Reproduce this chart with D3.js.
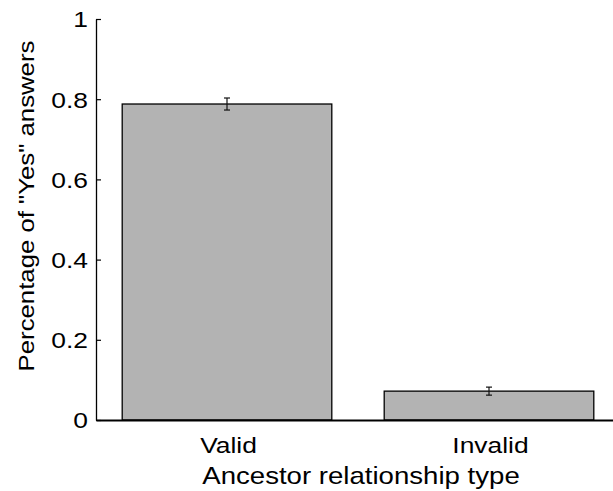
<!DOCTYPE html>
<html>
<head>
<meta charset="utf-8">
<script src="https://cdn.jsdelivr.net/npm/d3@7"></script>
<style>
  body { margin: 0; background: #fff; }
  text { font-family: "Liberation Sans", Arial, sans-serif; }
</style>
</head>
<body>
<div id="chart"></div>
<script>
// data
var categories = ['Valid', 'Invalid']
var values = [0.788, 0.072]
var errors = [0.015, 0.01]
var yTicks = [0, 0.2, 0.4, 0.6, 0.8, 1]

var width = 613, height = 491
var margin = {top: 19, left: 96, bottom: 71}
var plotBottom = height - margin.bottom
// the original font runs a bit wider than Liberation Sans
var stretch = 1.2

var svg = d3.select('#chart')
    .append('svg')
    .attr('width', width)
    .attr('height', height)

// x positions: categories sit at 1 and 2, axis runs 0.5 .. 2.5
var xScale = d3.scaleLinear()
    .domain([0.5, 2.5])
    .range([margin.left, margin.left + 524])

var yScale = d3.scaleLinear()
    .domain([0, 1])
    .range([plotBottom, margin.top])

var barW = 0.8

// bars
svg.selectAll('rect.bar')
    .data(values)
    .enter()
    .append('rect')
    .attr('class', 'bar')
    .attr('x', (d, i) => xScale(i + 1 - barW / 2))
    .attr('width', (d, i) => xScale(i + 1 + barW / 2) - xScale(i + 1 - barW / 2))
    .attr('y', d => yScale(d))
    .attr('height', d => yScale(0) - yScale(d))
    .attr('fill', '#b3b3b3')
    .attr('stroke', '#000')
    .attr('stroke-width', 1.3)

// error bars
var errG = svg.selectAll('g.err')
    .data(values)
    .enter()
    .append('g')
    .attr('class', 'err')
    .attr('stroke', '#111')
    .attr('stroke-width', 1.2)

errG.append('line')
    .attr('x1', (d, i) => xScale(i + 1))
    .attr('x2', (d, i) => xScale(i + 1))
    .attr('y1', (d, i) => yScale(d + errors[i]))
    .attr('y2', (d, i) => yScale(d - errors[i]))
errG.append('line')
    .attr('x1', (d, i) => xScale(i + 1) - 3)
    .attr('x2', (d, i) => xScale(i + 1) + 3)
    .attr('y1', (d, i) => yScale(d + errors[i]))
    .attr('y2', (d, i) => yScale(d + errors[i]))
errG.append('line')
    .attr('x1', (d, i) => xScale(i + 1) - 3)
    .attr('x2', (d, i) => xScale(i + 1) + 3)
    .attr('y1', (d, i) => yScale(d - errors[i]))
    .attr('y2', (d, i) => yScale(d - errors[i]))

// y axis, ticks pointing inward
var yAxis = d3.axisRight(yScale)
    .tickValues(yTicks)
    .tickFormat(d => d === 0 || d === 1 ? String(d) : d3.format('.1f')(d))
    .tickSize(5)
    .tickSizeOuter(0)

var yG = svg.append('g')
    .attr('transform', `translate(${margin.left},0)`)
    .call(yAxis)
yG.select('.domain').attr('stroke', '#000').attr('stroke-width', 1.3)
yG.selectAll('.tick line').attr('stroke', '#000').attr('stroke-width', 1.2)
yG.selectAll('.tick text')
    .attr('x', 0)
    .attr('dy', '0.36em')
    .attr('transform', `translate(-8,0) scale(${stretch},1)`)
    .attr('text-anchor', 'end')
    .attr('font-size', 22)
    .attr('fill', '#000')

// x axis line and category labels
var xAxis = d3.axisBottom(xScale)
    .tickValues([1, 2])
    .tickFormat((d, i) => categories[i])
    .tickSize(0)
    .tickSizeOuter(0)

var xG = svg.append('g')
    .attr('transform', `translate(0,${plotBottom})`)
    .call(xAxis)
xG.select('.domain').attr('stroke', '#000').attr('stroke-width', 2)
xG.selectAll('.tick text')
    .attr('y', 0)
    .attr('dy', 0)
    .attr('transform', `translate(1,33) scale(${stretch},1)`)
    .attr('font-size', 22)
    .attr('fill', '#000')

// axis titles
svg.append('text')
    .attr('transform', `translate(361,484) scale(1.15,1)`)
    .attr('text-anchor', 'middle')
    .attr('font-size', 24)
    .text('Ancestor relationship type')

svg.append('text')
    .attr('transform', `translate(34,206) rotate(-90) scale(1.12,1)`)
    .attr('text-anchor', 'middle')
    .attr('font-size', 23)
    .text('Percentage of "Yes" answers')
</script>
</body>
</html>
